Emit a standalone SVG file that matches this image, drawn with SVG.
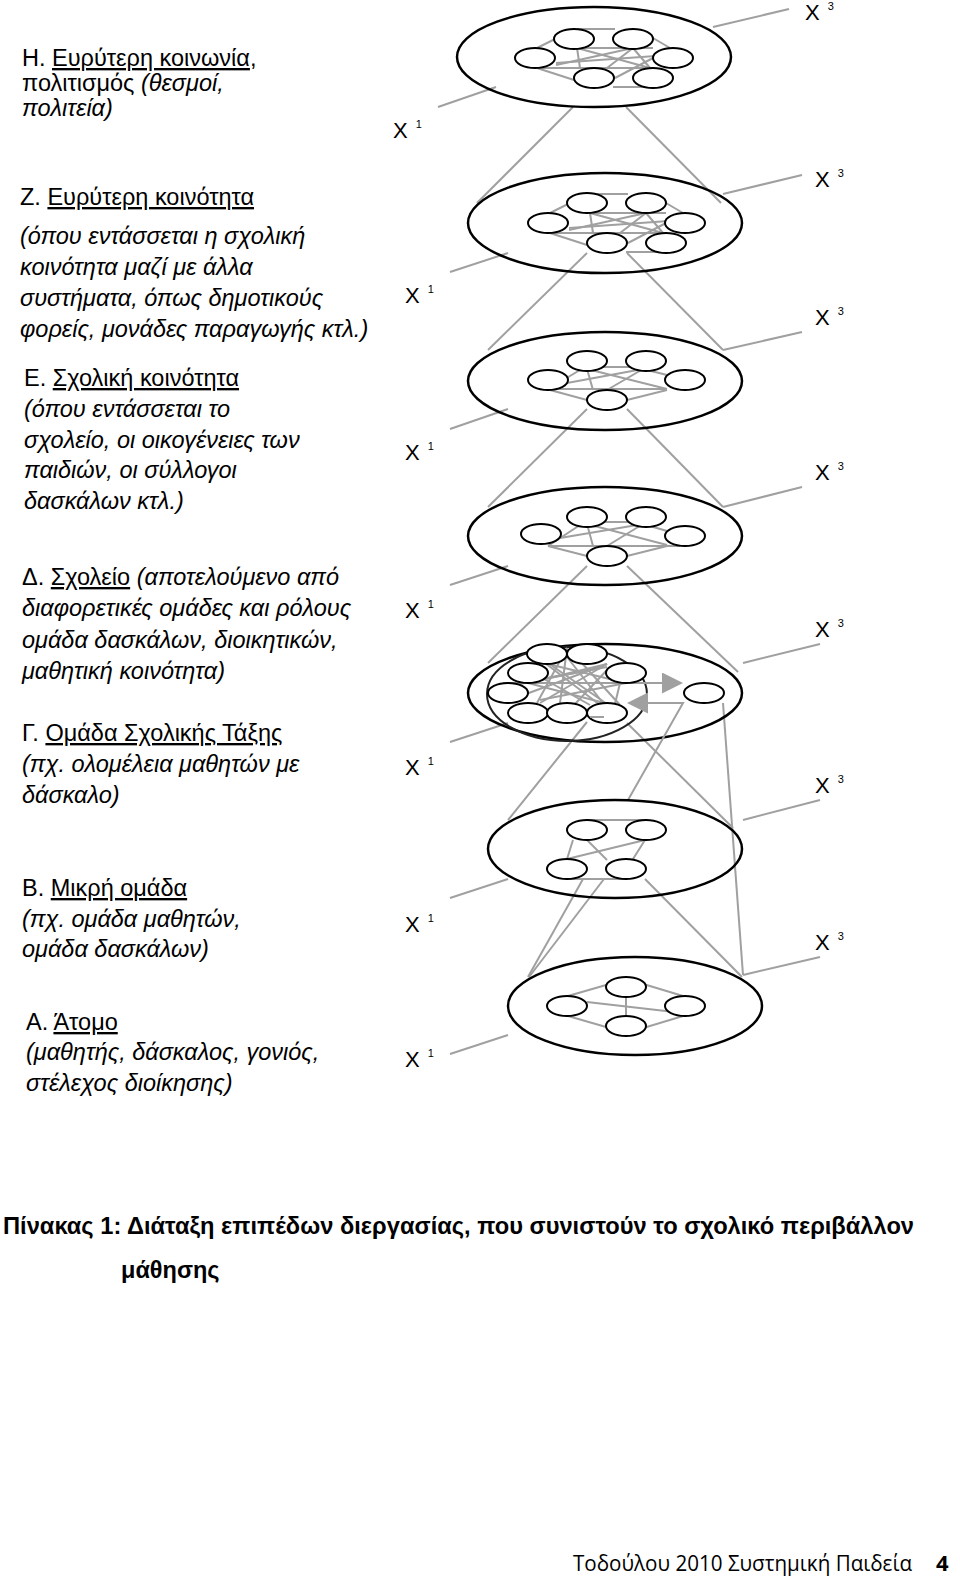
<svg xmlns="http://www.w3.org/2000/svg" width="960" height="1586" viewBox="0 0 960 1586">
<style>
.big{fill:none;stroke:#000;stroke-width:2.5}
.inner{fill:none;stroke:#222;stroke-width:2}
.nd{fill:#fff;stroke:#000;stroke-width:2}
.ln{stroke:#a0a0a0;stroke-width:2;fill:none}
.lbl{font-family:"Liberation Sans",Arial,sans-serif;font-size:23.5px;fill:#000}
.it{font-style:italic}
.ul{text-decoration:underline}
.x{font-family:"Liberation Sans",Arial,sans-serif;font-size:22px;fill:#000}
.sup{font-size:11px}
.cap{font-family:"Liberation Sans",Arial,sans-serif;font-size:23.5px;font-weight:bold;fill:#000}
.foot{font-family:"Open Sans","Liberation Sans",sans-serif;font-size:22px;fill:#000}
</style>
<defs>
<marker id="tri" markerUnits="userSpaceOnUse" markerWidth="22" markerHeight="22" refX="0" refY="10.5" orient="auto">
<path d="M0,0 L21,10.5 L0,21 z" fill="#a0a0a0"/>
</marker>
</defs>
<rect width="960" height="1586" fill="#fff"/>

<!-- connectors between levels and to labels -->
<g id="connectors" class="ln">
<!-- X1 leaders -->
<line x1="438" y1="107" x2="496" y2="87"/>
<line x1="450" y1="272" x2="508" y2="253"/>
<line x1="450" y1="429" x2="508" y2="409"/>
<line x1="450" y1="585" x2="508" y2="566"/>
<line x1="450" y1="742" x2="508" y2="723"/>
<line x1="450" y1="898" x2="508" y2="879"/>
<line x1="450" y1="1054" x2="508" y2="1035"/>
<!-- X3 leaders -->
<line x1="713" y1="27" x2="789" y2="9"/>
<line x1="723" y1="194" x2="802" y2="175"/>
<line x1="723" y1="350" x2="802" y2="332"/>
<line x1="723" y1="507" x2="802" y2="487"/>
<line x1="743" y1="663" x2="820" y2="644"/>
<line x1="743" y1="820" x2="820" y2="800"/>
<line x1="743" y1="975" x2="820" y2="957"/>
<!-- level links -->
<line x1="573" y1="107" x2="477" y2="203"/>
<line x1="626" y1="107" x2="721" y2="203"/>
<line x1="587" y1="253" x2="488" y2="350"/>
<line x1="627" y1="253" x2="723" y2="350"/>
<line x1="587" y1="409" x2="488" y2="507"/>
<line x1="627" y1="409" x2="723" y2="507"/>
<line x1="587" y1="566" x2="488" y2="663"/>
<line x1="627" y1="566" x2="738" y2="672"/>
<line x1="587" y1="722" x2="508" y2="820"/>
<line x1="627" y1="723" x2="733" y2="828"/>
<line x1="723" y1="703" x2="743" y2="975"/>
<line x1="583" y1="879" x2="528" y2="977"/>
<line x1="604" y1="879" x2="529" y2="977"/>
<line x1="645" y1="879" x2="742" y2="977"/>
</g>

<!-- Level H -->
<g id="level-H">
<ellipse class="big" cx="594" cy="57" rx="137" ry="50"/>
<g class="ln" transform="translate(594,57)">
<line x1="-57" y1="-9" x2="-39" y2="-18"/><line x1="-17" y1="-28" x2="21" y2="-28"/>
<line x1="59" y1="-19" x2="76" y2="-9"/><line x1="-17" y1="-9" x2="59" y2="-9"/>
<line x1="-17" y1="-9" x2="-14" y2="11"/><line x1="-17" y1="-9" x2="56" y2="11"/>
<line x1="-57" y1="11" x2="59" y2="11"/><line x1="-57" y1="11" x2="-20" y2="23"/>
<line x1="19" y1="30" x2="59" y2="30"/><line x1="-38" y1="8" x2="39" y2="-9"/>
<line x1="13" y1="11" x2="39" y2="-9"/><line x1="39" y1="-9" x2="56" y2="11"/>
<line x1="-38" y1="6" x2="76" y2="-2"/><line x1="21" y1="21" x2="59" y2="1"/>
</g>
<g class="nd">
<ellipse cx="574" cy="39" rx="20" ry="10"/><ellipse cx="633" cy="39" rx="20" ry="10"/>
<ellipse cx="535" cy="58" rx="20" ry="10"/><ellipse cx="673" cy="58" rx="20" ry="10"/>
<ellipse cx="594" cy="78" rx="20" ry="10"/><ellipse cx="653" cy="78" rx="20" ry="10"/>
</g>
</g>

<!-- Level Z -->
<g id="level-Z">
<ellipse class="big" cx="605" cy="223" rx="137" ry="50"/>
<g class="ln" transform="translate(607,222)">
<line x1="-57" y1="-9" x2="-39" y2="-18"/><line x1="-17" y1="-28" x2="21" y2="-28"/>
<line x1="59" y1="-19" x2="76" y2="-9"/><line x1="-17" y1="-9" x2="59" y2="-9"/>
<line x1="-17" y1="-9" x2="-14" y2="11"/><line x1="-17" y1="-9" x2="56" y2="11"/>
<line x1="-57" y1="11" x2="59" y2="11"/><line x1="-57" y1="11" x2="-20" y2="23"/>
<line x1="19" y1="30" x2="59" y2="30"/><line x1="-38" y1="8" x2="39" y2="-9"/>
<line x1="13" y1="11" x2="39" y2="-9"/><line x1="39" y1="-9" x2="56" y2="11"/>
<line x1="-38" y1="6" x2="76" y2="-2"/><line x1="21" y1="21" x2="59" y2="1"/>
</g>
<g class="nd">
<ellipse cx="587" cy="203" rx="20" ry="10"/><ellipse cx="646" cy="203" rx="20" ry="10"/>
<ellipse cx="548" cy="223" rx="20" ry="10"/><ellipse cx="685" cy="223" rx="20" ry="10"/>
<ellipse cx="607" cy="243" rx="20" ry="10"/><ellipse cx="666" cy="243" rx="20" ry="10"/>
</g>
</g>

<!-- Level E -->
<g id="level-E">
<ellipse class="big" cx="605" cy="381" rx="137" ry="49"/>
<g class="ln" transform="translate(605,381)">
<line x1="-57" y1="8" x2="-25" y2="-11"/><line x1="-18" y1="-12" x2="-12" y2="9"/>
<line x1="-18" y1="-12" x2="62" y2="8"/><line x1="-18" y1="-14" x2="38" y2="-14"/>
<line x1="38" y1="-12" x2="62" y2="-6"/><line x1="-55" y1="8" x2="62" y2="8"/>
<line x1="-38" y1="2" x2="38" y2="-12"/><line x1="2" y1="9" x2="38" y2="-12"/>
<line x1="-55" y1="9" x2="-18" y2="19"/><line x1="22" y1="19" x2="62" y2="9"/>
</g>
<g class="nd">
<ellipse cx="587" cy="361" rx="20" ry="10"/><ellipse cx="646" cy="361" rx="20" ry="10"/>
<ellipse cx="548" cy="380" rx="20" ry="10"/><ellipse cx="685" cy="380" rx="20" ry="10"/>
<ellipse cx="607" cy="400" rx="20" ry="10"/>
</g>
</g>

<!-- Level D upper (4th) -->
<g id="level-D1">
<ellipse class="big" cx="605" cy="536" rx="137" ry="49"/>
<g class="ln" transform="translate(605,536)">
<line x1="-57" y1="10" x2="-25" y2="-11"/><line x1="-18" y1="-12" x2="-12" y2="10"/>
<line x1="-18" y1="-12" x2="62" y2="9"/><line x1="-18" y1="-14" x2="38" y2="-14"/>
<line x1="38" y1="-12" x2="62" y2="-5"/><line x1="-57" y1="10" x2="75" y2="10"/>
<line x1="-45" y1="2" x2="38" y2="-12"/><line x1="2" y1="10" x2="38" y2="-12"/>
<line x1="-57" y1="10" x2="-18" y2="20"/><line x1="22" y1="20" x2="62" y2="10"/>
</g>
<g class="nd">
<ellipse cx="587" cy="517" rx="20" ry="10"/><ellipse cx="646" cy="517" rx="20" ry="10"/>
<ellipse cx="541" cy="534" rx="20" ry="10"/><ellipse cx="685" cy="536" rx="20" ry="10"/>
<ellipse cx="607" cy="556" rx="20" ry="10"/>
</g>
</g>

<!-- Level D (school, double ellipse) -->
<g id="level-D2">
<ellipse class="big" cx="605" cy="693" rx="137" ry="49"/>
<ellipse class="inner" cx="567" cy="694" rx="80" ry="47"/>
<g class="ln">
<line x1="567" y1="648" x2="537" y2="703"/><line x1="567" y1="648" x2="560" y2="703"/>
<line x1="560" y1="648" x2="603" y2="703"/><line x1="570" y1="650" x2="620" y2="705"/>
<line x1="607" y1="664" x2="510" y2="700"/><line x1="607" y1="664" x2="540" y2="703"/>
<line x1="607" y1="667" x2="520" y2="683"/><line x1="607" y1="670" x2="575" y2="704"/>
<line x1="548" y1="663" x2="607" y2="704"/><line x1="548" y1="664" x2="626" y2="683"/>
<line x1="528" y1="683" x2="607" y2="664"/><line x1="528" y1="683" x2="612" y2="705"/>
<line x1="510" y1="686" x2="600" y2="668"/><line x1="540" y1="700" x2="626" y2="683"/>
<line x1="620" y1="683" x2="615" y2="704"/><line x1="545" y1="663" x2="600" y2="705"/>
<line x1="528" y1="670" x2="590" y2="705"/>
<line x1="503" y1="683" x2="662" y2="683" marker-end="url(#tri)"/>
<path d="M628,800 L683,703 L648,703" marker-end="url(#tri)"/>
</g>
<g class="nd">
<ellipse cx="547" cy="654" rx="20" ry="10"/><ellipse cx="587" cy="654" rx="20" ry="10"/>
<ellipse cx="528" cy="673" rx="20" ry="10"/><ellipse cx="626" cy="673" rx="20" ry="10"/>
<ellipse cx="508" cy="693" rx="20" ry="10"/>
<ellipse cx="528" cy="713" rx="20" ry="10"/><ellipse cx="567" cy="713" rx="20" ry="10"/>
<ellipse cx="607" cy="713" rx="20" ry="10"/>
<ellipse cx="704" cy="693" rx="20" ry="10"/>
</g>
<line class="ln" x1="590" y1="717" x2="604" y2="717"/>
</g>

<!-- Level G -->
<g id="level-G">
<ellipse class="big" cx="615" cy="849" rx="127" ry="49"/>
<g class="ln">
<line x1="587" y1="820" x2="645" y2="820"/>
<line x1="573" y1="840" x2="567" y2="859"/>
<line x1="587" y1="840" x2="607" y2="860"/>
<line x1="567" y1="859" x2="645" y2="840"/>
<line x1="645" y1="840" x2="633" y2="859"/>
<line x1="567" y1="879" x2="626" y2="879"/>
</g>
<g class="nd">
<ellipse cx="587" cy="830" rx="20" ry="10"/><ellipse cx="646" cy="830" rx="20" ry="10"/>
<ellipse cx="567" cy="869" rx="20" ry="10"/><ellipse cx="626" cy="869" rx="20" ry="10"/>
</g>
</g>

<!-- Level B -->
<g id="level-B">
<ellipse class="big" cx="635" cy="1006" rx="127" ry="49"/>
<g class="ln">
<line x1="568" y1="996" x2="613" y2="983"/>
<line x1="640" y1="983" x2="683" y2="996"/>
<line x1="587" y1="1002" x2="683" y2="1013"/>
<line x1="626" y1="997" x2="626" y2="1016"/>
<line x1="568" y1="1016" x2="613" y2="1029"/>
<line x1="640" y1="1029" x2="683" y2="1016"/>
</g>
<g class="nd">
<ellipse cx="626" cy="987" rx="20" ry="10"/>
<ellipse cx="567" cy="1006" rx="20" ry="10"/><ellipse cx="685" cy="1006" rx="20" ry="10"/>
<ellipse cx="626" cy="1026" rx="20" ry="10"/>
</g>
</g>

<!-- X labels -->
<g id="x-labels" class="x">
<text x="393" y="138">X<tspan class="sup" dx="8" dy="-10">1</tspan></text>
<text x="405" y="303">X<tspan class="sup" dx="8" dy="-10">1</tspan></text>
<text x="405" y="460">X<tspan class="sup" dx="8" dy="-10">1</tspan></text>
<text x="405" y="618">X<tspan class="sup" dx="8" dy="-10">1</tspan></text>
<text x="405" y="775">X<tspan class="sup" dx="8" dy="-10">1</tspan></text>
<text x="405" y="932">X<tspan class="sup" dx="8" dy="-10">1</tspan></text>
<text x="405" y="1067">X<tspan class="sup" dx="8" dy="-10">1</tspan></text>
<text x="805" y="20">X<tspan class="sup" dx="8" dy="-10">3</tspan></text>
<text x="815" y="187">X<tspan class="sup" dx="8" dy="-10">3</tspan></text>
<text x="815" y="325">X<tspan class="sup" dx="8" dy="-10">3</tspan></text>
<text x="815" y="480">X<tspan class="sup" dx="8" dy="-10">3</tspan></text>
<text x="815" y="637">X<tspan class="sup" dx="8" dy="-10">3</tspan></text>
<text x="815" y="793">X<tspan class="sup" dx="8" dy="-10">3</tspan></text>
<text x="815" y="950">X<tspan class="sup" dx="8" dy="-10">3</tspan></text>
</g>

<!-- Left descriptions -->
<g id="text-H" class="lbl">
<text x="22" y="66">Η. <tspan class="ul">Ευρύτερη κοινωνία</tspan>,</text>
<text x="22" y="91">πολιτισμός <tspan class="it">(θεσμοί,</tspan></text>
<text x="22" y="116" class="it">πολιτεία)</text>
</g>
<g id="text-Z" class="lbl">
<text x="20" y="205">Ζ. <tspan class="ul">Ευρύτερη κοινότητα </tspan></text>
<text x="20" y="244" class="it">(όπου εντάσσεται η σχολική</text>
<text x="20" y="275" class="it">κοινότητα μαζί με άλλα</text>
<text x="20" y="306" class="it">συστήματα, όπως δημοτικούς</text>
<text x="20" y="337" class="it">φορείς, μονάδες παραγωγής κτλ.)</text>
</g>
<g id="text-E" class="lbl">
<text x="24" y="386">Ε. <tspan class="ul">Σχολική κοινότητα</tspan></text>
<text x="24" y="417" class="it">(όπου εντάσσεται το</text>
<text x="24" y="448" class="it">σχολείο, οι οικογένειες των</text>
<text x="24" y="478" class="it">παιδιών, οι σύλλογοι</text>
<text x="24" y="509" class="it">δασκάλων κτλ.)</text>
</g>
<g id="text-D" class="lbl">
<text x="22" y="585">Δ. <tspan class="ul">Σχολείο</tspan><tspan class="it"> (αποτελούμενο από</tspan></text>
<text x="22" y="616" class="it">διαφορετικές ομάδες και ρόλους</text>
<text x="22" y="648" class="it">ομάδα δασκάλων, διοικητικών,</text>
<text x="22" y="679" class="it">μαθητική κοινότητα)</text>
</g>
<g id="text-G" class="lbl">
<text x="22" y="741">Γ. <tspan class="ul">Ομάδα Σχολικής Τάξης</tspan></text>
<text x="22" y="772" class="it">(πχ. ολομέλεια μαθητών με</text>
<text x="22" y="803" class="it">δάσκαλο)</text>
</g>
<g id="text-B" class="lbl">
<text x="22" y="896">Β. <tspan class="ul">Μικρή ομάδα</tspan></text>
<text x="22" y="927" class="it">(πχ. ομάδα μαθητών,</text>
<text x="22" y="957" class="it">ομάδα δασκάλων)</text>
</g>
<g id="text-A" class="lbl">
<text x="26" y="1030">Α. <tspan class="ul">Άτομο</tspan></text>
<text x="26" y="1060" class="it">(μαθητής, δάσκαλος, γονιός,</text>
<text x="26" y="1091" class="it">στέλεχος διοίκησης)</text>
</g>

<g id="caption" class="cap">
<text x="3" y="1234" textLength="911" lengthAdjust="spacingAndGlyphs">Πίνακας 1: Διάταξη επιπέδων διεργασίας, που συνιστούν το σχολικό περιβάλλον</text>
<text x="121" y="1278">μάθησης</text>
</g>
<g id="footer">
<text class="foot" x="573" y="1571" textLength="339" lengthAdjust="spacingAndGlyphs">Τοδούλου 2010 Συστημική Παιδεία</text>
<text class="foot" x="936" y="1571" font-weight="bold">4</text>
</g>
</svg>
